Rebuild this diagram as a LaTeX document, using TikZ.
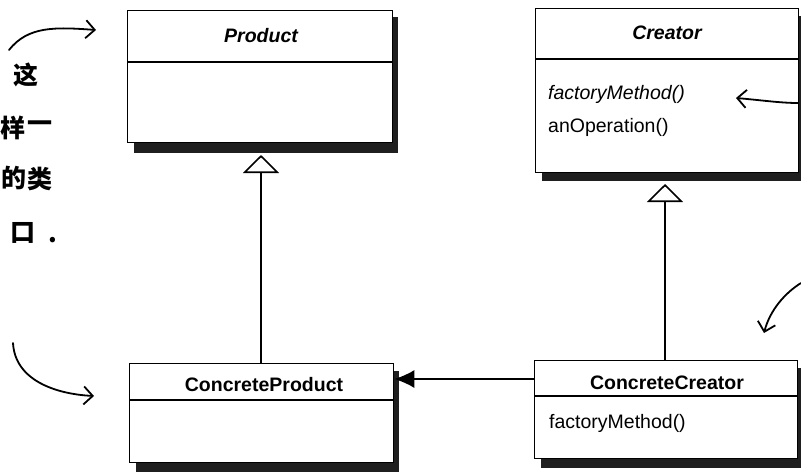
\documentclass[tikz,border=0pt]{standalone}
\usepackage{fontspec}
\setmainfont{Liberation Sans}
\newfontfamily\cjk{Noto Sans CJK SC}
\usetikzlibrary{arrows.meta}
\begin{document}
\begin{tikzpicture}[x=1pt,y=-1pt,
  umlbox/.style={draw, line width=1.3pt, fill=white, inner sep=0pt, anchor=north west},
  shade/.style={fill=black!88},
  divider/.style={line width=1.3pt},
  ttl/.style={font=\fontsize{19.5}{22}\selectfont\bfseries, inner sep=0pt},
  op/.style={font=\fontsize{19.5}{22}\selectfont, inner sep=0pt, anchor=west},
  inh/.style={line width=1.6pt, -{Triangle[open, length=18pt, width=36pt, line width=1.6pt]}},
  assoc/.style={line width=1.6pt, -{Latex[length=20pt, width=18pt]}},
  hand/.style={line width=1.8pt, line cap=round, -{Straight Barb[length=9pt, width=18pt, line width=1.8pt]}},
  note/.style={font=\cjk\fontsize{25}{27}\selectfont\bfseries, inner sep=0pt}
]
\useasboundingbox (0,0) rectangle (801,472);

% shadows
\fill[shade] (134,17) rectangle (398,153);
\fill[shade] (542,16) rectangle (806,181);
\fill[shade] (136,371) rectangle (399,472);
\fill[shade] (541,368) rectangle (803,468);

% Product
\node[umlbox, minimum width=265pt, minimum height=132pt] (prod) at (127,10) {};
\draw[divider] (prod.west |- 0,62) -- (prod.east |- 0,62);
\node[ttl, font=\fontsize{19.5}{22}\selectfont\bfseries\itshape] (prodT) at (261,36) {Product};

% Creator
\node[umlbox, minimum width=263pt, minimum height=164pt] (cre) at (535,8) {};
\draw[divider] (cre.west |- 0,59) -- (cre.east |- 0,59);
\node[ttl, font=\fontsize{19.5}{22}\selectfont\bfseries\itshape] (creT) at (667,33) {Creator};
\node[op, font=\fontsize{19.5}{22}\selectfont\itshape] (creOp1) at (548,94) {factoryMethod()};
\node[op] (creOp2) at (548,127) {anOperation()};

% ConcreteProduct
\node[umlbox, minimum width=264pt, minimum height=99pt] (cprod) at (129,363) {};
\draw[divider] (cprod.west |- 0,400) -- (cprod.east |- 0,400);
\node[ttl] (cprodT) at (264,385) {ConcreteProduct};

% ConcreteCreator
\node[umlbox, minimum width=263pt, minimum height=98pt] (ccre) at (534,360) {};
\draw[divider] (ccre.west |- 0,396) -- (ccre.east |- 0,396);
\node[ttl] (ccreT) at (667,383) {ConcreteCreator};
\node[op] (ccreOp) at (549,423) {factoryMethod()};

% inheritance
\coordinate (ptip) at (261,155);
\coordinate (ctip) at (665,184);
\draw[inh] (cprod.north -| ptip) -- (ptip);
\draw[inh] (ccre.north -| ctip) -- (ctip);

% association
\draw[assoc] (ccre.west |- 0,379) -- (cprod.east |- 0,379);

% handwritten notes
\node[note] (n1) at (26,75) {这};
\node[note] (n2a) at (13,128) {样};
\node[note] (n2b) at (40,127) {一};
\node[note] (n3a) at (14,178) {的};
\node[note] (n3b) at (40,179) {类};
\node[note] (n4a) at (23,233) {口};
\node[note] (n4b) at (53,240) {.};

% handwritten arrows
\coordinate (a1s) at (9,50);
\coordinate (a1e) at (96,30);
\draw[hand] (a1s) .. controls (28,26) and (55,27) .. (a1e);
\coordinate (a2s) at (13,343);
\coordinate (a2e) at (94,396);
\draw[hand] (a2s) .. controls (15,380) and (55,394) .. (a2e);
\coordinate (a3s) at (801,283);
\coordinate (a3e) at (764,333);
\draw[hand] (a3s) .. controls (785,293) and (770,310) .. (a3e);
\coordinate (a4s) at (798,103);
\coordinate (a4e) at (736,98);
\draw[hand] (a4s) .. controls (780,103) and (760,100) .. (a4e);
\end{tikzpicture}
\end{document}
